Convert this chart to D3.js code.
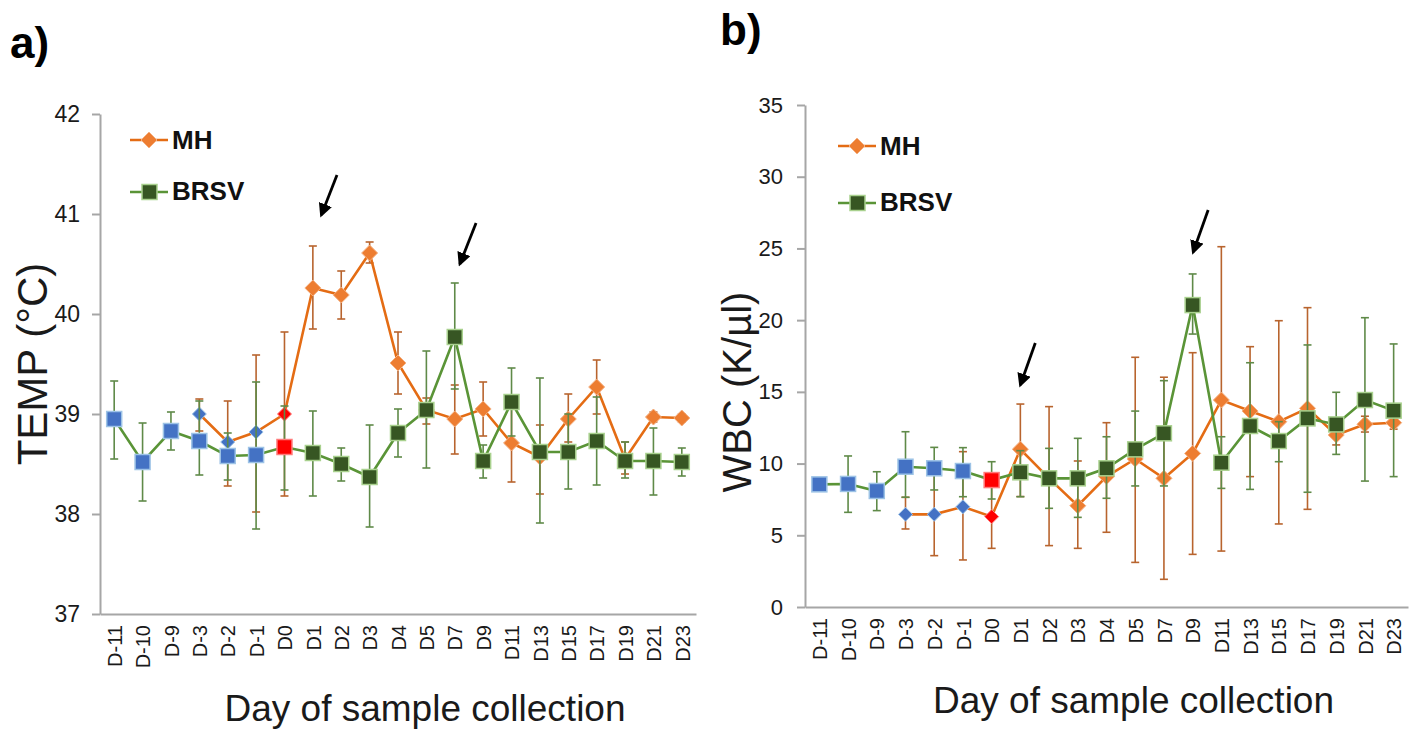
<!DOCTYPE html>
<html>
<head>
<meta charset="utf-8">
<script src="https://cdn.jsdelivr.net/npm/d3@7"></script>
<style>
  body { margin: 0; background: #fff; }
  svg { font-family: Arial, "Liberation Sans", sans-serif; }
</style>
</head>
<body>
<div id="chart"></div>
<script>
// categories (day of sample collection)
var days = ["D-11", "D-10", "D-9", "D-3", "D-2", "D-1", "D0", "D1", "D2", "D3", "D4",
    "D5", "D7", "D9", "D11", "D13", "D15", "D17", "D19", "D21", "D23"];

// a) TEMP (°C)
var tempMH = [null, null, null, 39.0, 38.72, 38.82, 39.0, 40.26, 40.19, 40.61, 39.51,
    39.04, 38.95, 39.05, 38.71, 38.57, 38.95, 39.27, 38.55, 38.97, 38.96];
var tempMHHi = [null, null, null, 39.15, 39.13, 39.59, 39.82, 40.68, 40.43, 40.72, 39.82,
    39.16, 39.29, 39.32, 39.1, 38.89, 39.2, 39.54, 38.72, 39.02, 39.0];
var tempMHLo = [null, null, null, 38.83, 38.28, 38.02, 38.18, 39.85, 39.95, 40.51, 39.2,
    38.9, 38.6, 38.78, 38.32, 38.2, 38.72, 39.0, 38.4, 38.92, 38.92];
var tempBRSV = [38.95, 38.52, 38.83, 38.73, 38.58, 38.59, 38.67, 38.61, 38.5, 38.37, 38.81,
    39.04, 39.77, 38.53, 39.12, 38.62, 38.62, 38.73, 38.53, 38.53, 38.52];
var tempBRSVHi = [39.33, 38.91, 39.02, 39.13, 38.81, 39.32, 39.08, 39.03, 38.66, 38.89, 39.05,
    39.63, 40.31, 38.69, 39.46, 39.36, 39.0, 39.17, 38.72, 38.86, 38.66];
var tempBRSVLo = [38.55, 38.13, 38.64, 38.39, 38.34, 37.85, 38.24, 38.18, 38.33, 37.87, 38.57,
    38.46, 39.25, 38.36, 38.78, 37.91, 38.25, 38.29, 38.36, 38.19, 38.38];

// b) WBC (K/µl)
var wbcMH = [null, null, null, 6.46, 6.46, 6.99, 6.3, 11.0, 8.97, 7.06, 9.09,
    10.32, 8.97, 10.71, 14.43, 13.66, 12.92, 13.85, 11.99, 12.74, 12.85];
var wbcMHHi = [null, null, null, 7.65, 9.34, 10.83, 8.5, 14.15, 13.97, 10.18, 12.85,
    17.41, 16.02, 17.73, 25.12, 18.15, 19.96, 20.87, 12.6, 13.3, 13.3];
var wbcMHLo = [null, null, null, 5.44, 3.58, 3.28, 4.09, 7.7, 4.28, 4.09, 5.21,
    3.11, 1.93, 3.67, 3.9, 9.09, 5.79, 6.81, 11.3, 12.2, 12.4];
var wbcBRSV = [8.55, 8.58, 8.09, 9.78, 9.67, 9.48, 8.85, 9.39, 8.97, 8.97, 9.67,
    10.99, 12.11, 21.05, 10.06, 12.62, 11.57, 13.15, 12.73, 14.43, 13.69];
var wbcBRSVHi = [8.75, 10.53, 9.43, 12.22, 11.13, 11.11, 10.13, 10.9, 11.06, 11.76, 11.87,
    13.66, 15.78, 23.22, 11.87, 17.03, 12.92, 18.27, 14.97, 20.17, 18.34];
var wbcBRSVLo = [8.35, 6.6, 6.72, 7.65, 8.16, 7.69, 7.53, 7.69, 6.88, 6.25, 7.58,
    8.44, 8.44, 19.03, 8.27, 8.2, 10.13, 8.0, 10.64, 8.78, 9.09];

// y ticks
var tempTicks = [37, 38, 39, 40, 41, 42];
var wbcTicks = [0, 5, 10, 15, 20, 25, 30, 35];

// arrows: [category, offset in steps, value] for tail and tip
var tempArrows = [
    { tail: ["D1", 0.85, 41.39], tip: ["D1", 0.3, 40.99] },
    { tail: ["D7", 0.75, 40.91], tip: ["D7", 0.18, 40.5] }
];
var wbcArrows = [
    { tail: ["D1", 0.52, 18.41], tip: ["D1", 0.0, 15.48] },
    { tail: ["D9", 0.54, 27.68], tip: ["D9", 0.02, 24.75] }
];

var svg = d3.select("#chart").append("svg")
    .attr("width", 1411)
    .attr("height", 729);

svg.append("defs").append("marker")
    .attr("id", "arrowhead")
    .attr("viewBox", "0 0 10 10")
    .attr("refX", 8).attr("refY", 5)
    .attr("markerWidth", 5).attr("markerHeight", 5)
    .attr("markerUnits", "strokeWidth")
    .attr("orient", "auto")
    .append("path")
    .attr("d", "M0,0 L10,5 L0,10 z")
    .attr("fill", "#000");

var C = {
    axis: "#a6a6a6",
    text: "#1a1a1a",
    mhLine: "#e46c14",
    mhFill: "#ed7d31",
    mhStroke: "#f4b183",
    mhErr: "#b8642e",
    bLine: "#5a9437",
    bFill: "#375623",
    bStroke: "#a9d18e",
    bErr: "#5f8a48",
    blue: "#4472c4",
    blueStroke: "#9dc3e6",
    red: "#ff0000"
};

function drawPanel(opt) {
    var x = d3.scalePoint().domain(days).range([opt.left, opt.right]).padding(0.5);
    var y = d3.scaleLinear().domain(opt.domain).range([opt.bottom, opt.top]);
    var g = svg.append("g");

    // y axis
    var yAxis = g.append("g")
        .attr("transform", "translate(" + opt.left + ",0)")
        .call(d3.axisLeft(y).tickValues(opt.ticks).tickFormat(d3.format("d"))
            .tickSize(8).tickSizeOuter(0).tickPadding(opt.tickPad));
    yAxis.select(".domain").attr("stroke", C.axis).attr("stroke-width", 2);
    yAxis.selectAll(".tick line").attr("stroke", C.axis).attr("stroke-width", 2);
    yAxis.selectAll(".tick text")
        .attr("fill", C.text)
        .style("font-size", opt.yFont + "px");

    // x axis
    var xAxis = g.append("g")
        .attr("transform", "translate(0," + opt.bottom + ")")
        .call(d3.axisBottom(x).tickSize(0).tickSizeOuter(0));
    xAxis.select(".domain").attr("stroke", C.axis).attr("stroke-width", 2);
    xAxis.selectAll(".tick text")
        .attr("transform", "rotate(-90)")
        .attr("x", -11)
        .attr("y", 0)
        .attr("dy", "0.36em")
        .attr("fill", C.text)
        .style("text-anchor", "end")
        .style("font-size", "20px");

    var step = x.step();

    function errorBars(mean, lo, hi, color) {
        var idx = d3.range(days.length).filter(function (i) { return mean[i] != null; });
        var eg = g.append("g").attr("stroke", color).attr("stroke-width", 1.6);
        eg.selectAll(".v").data(idx).enter().append("line")
            .attr("x1", function (i) { return x(days[i]); })
            .attr("x2", function (i) { return x(days[i]); })
            .attr("y1", function (i) { return y(lo[i]); })
            .attr("y2", function (i) { return y(hi[i]); });
        [lo, hi].forEach(function (arr) {
            eg.selectAll(null).data(idx).enter().append("line")
                .attr("x1", function (i) { return x(days[i]) - 4; })
                .attr("x2", function (i) { return x(days[i]) + 4; })
                .attr("y1", function (i) { return y(arr[i]); })
                .attr("y2", function (i) { return y(arr[i]); });
        });
    }

    function seriesLine(mean, color) {
        var idx = d3.range(days.length).filter(function (i) { return mean[i] != null; });
        g.append("path")
            .datum(idx)
            .attr("fill", "none")
            .attr("stroke", color)
            .attr("stroke-width", 2.6)
            .attr("d", d3.line()
                .x(function (i) { return x(days[i]); })
                .y(function (i) { return y(mean[i]); }));
    }

    function pointColor(i, fill, stroke) {
        var d0 = days.indexOf("D0");
        if (i < d0) return [C.blue, C.blueStroke];
        if (i === d0) return [C.red, "#ff7b7b"];
        return [fill, stroke];
    }

    function diamonds(mean, small) {
        var idx = d3.range(days.length).filter(function (i) { return mean[i] != null; });
        g.append("g").selectAll("path").data(idx).enter().append("path")
            .attr("transform", function (i) { return "translate(" + x(days[i]) + "," + y(mean[i]) + ")"; })
            .attr("d", function (i) {
                var r = i <= days.indexOf("D0") ? small : 8;
                return "M0," + (-r) + "L" + r + ",0L0," + r + "L" + (-r) + ",0Z";
            })
            .attr("fill", function (i) { return pointColor(i, C.mhFill)[0]; })
            .attr("stroke", function (i) { return pointColor(i, C.mhFill, C.mhStroke)[1]; })
            .attr("stroke-width", 1);
    }

    function squares(mean) {
        var idx = d3.range(days.length).filter(function (i) { return mean[i] != null; });
        g.append("g").selectAll("rect").data(idx).enter().append("rect")
            .attr("x", function (i) { return x(days[i]) - 7.5; })
            .attr("y", function (i) { return y(mean[i]) - 7.5; })
            .attr("width", 15)
            .attr("height", 15)
            .attr("fill", function (i) { return pointColor(i, C.bFill)[0]; })
            .attr("stroke", function (i) { return pointColor(i, C.bFill, C.bStroke)[1]; })
            .attr("stroke-width", 1.5);
    }

    errorBars(opt.mh, opt.mhLo, opt.mhHi, C.mhErr);
    seriesLine(opt.mh, C.mhLine);
    diamonds(opt.mh, 7);
    errorBars(opt.b, opt.bLo, opt.bHi, C.bErr);
    seriesLine(opt.b, C.bLine);
    squares(opt.b);

    // arrows
    opt.arrows.forEach(function (a) {
        g.append("line")
            .attr("x1", x(a.tail[0]) + a.tail[1] * step)
            .attr("y1", y(a.tail[2]))
            .attr("x2", x(a.tip[0]) + a.tip[1] * step)
            .attr("y2", y(a.tip[2]))
            .attr("stroke", "#000")
            .attr("stroke-width", 2.8)
            .attr("marker-end", "url(#arrowhead)");
    });

    // legend
    var lg = g.append("g").attr("transform", "translate(" + opt.legend[0] + "," + opt.legend[1] + ")");
    lg.append("line").attr("x1", 0).attr("x2", 38).attr("y1", 0).attr("y2", 0)
        .attr("stroke", C.mhLine).attr("stroke-width", 2.6);
    lg.append("path").attr("d", "M19,-8L27,0L19,8L11,0Z")
        .attr("fill", C.mhFill).attr("stroke", C.mhStroke);
    lg.append("text").attr("x", 42).attr("y", 9).text("MH")
        .attr("font-weight", "bold").style("font-size", "26px").attr("fill", "#111");
    lg.append("line").attr("x1", 0).attr("x2", 38).attr("y1", opt.legendGap).attr("y2", opt.legendGap)
        .attr("stroke", C.bLine).attr("stroke-width", 2.6);
    lg.append("rect").attr("x", 12).attr("y", opt.legendGap - 7.5).attr("width", 15).attr("height", 15)
        .attr("fill", C.bFill).attr("stroke", C.bStroke).attr("stroke-width", 1.5);
    lg.append("text").attr("x", 42).attr("y", opt.legendGap + 8).text("BRSV")
        .attr("font-weight", "bold").style("font-size", "26px").attr("fill", "#111");

    // titles
    g.append("text")
        .attr("transform", "translate(" + opt.yTitle[0] + "," + opt.yTitle[1] + ") rotate(-90)")
        .attr("text-anchor", "middle")
        .style("font-size", opt.yTitleFont + "px")
        .attr("fill", C.text)
        .text(opt.yLabel);
    g.append("text")
        .attr("x", (opt.left + opt.right) / 2 + 27)
        .attr("y", opt.xTitleY)
        .attr("text-anchor", "middle")
        .style("font-size", "37px")
        .attr("fill", C.text)
        .text("Day of sample collection");
    g.append("text")
        .attr("x", opt.tag[0])
        .attr("y", opt.tag[1])
        .attr("font-weight", "bold")
        .style("font-size", "44px")
        .attr("fill", "#000")
        .text(opt.tagText);
}

drawPanel({
    left: 100, right: 696, top: 114, bottom: 614,
    domain: [37, 42], ticks: tempTicks, tickPad: 12, yFont: 23,
    mh: tempMH, mhLo: tempMHLo, mhHi: tempMHHi,
    b: tempBRSV, bLo: tempBRSVLo, bHi: tempBRSVHi,
    arrows: tempArrows,
    legend: [130, 140], legendGap: 52,
    yTitle: [47, 364], yTitleFont: 42, yLabel: "TEMP (°C)",
    xTitleY: 721,
    tag: [10, 58], tagText: "a)"
});

drawPanel({
    left: 805, right: 1408, top: 105, bottom: 607,
    domain: [0, 35], ticks: wbcTicks, tickPad: 14, yFont: 22,
    mh: wbcMH, mhLo: wbcMHLo, mhHi: wbcMHHi,
    b: wbcBRSV, bLo: wbcBRSVLo, bHi: wbcBRSVHi,
    arrows: wbcArrows,
    legend: [838, 146], legendGap: 57,
    yTitle: [751, 392], yTitleFont: 40, yLabel: "WBC (K/µl)",
    xTitleY: 713,
    tag: [720, 45], tagText: "b)"
});
</script>
</body>
</html>
